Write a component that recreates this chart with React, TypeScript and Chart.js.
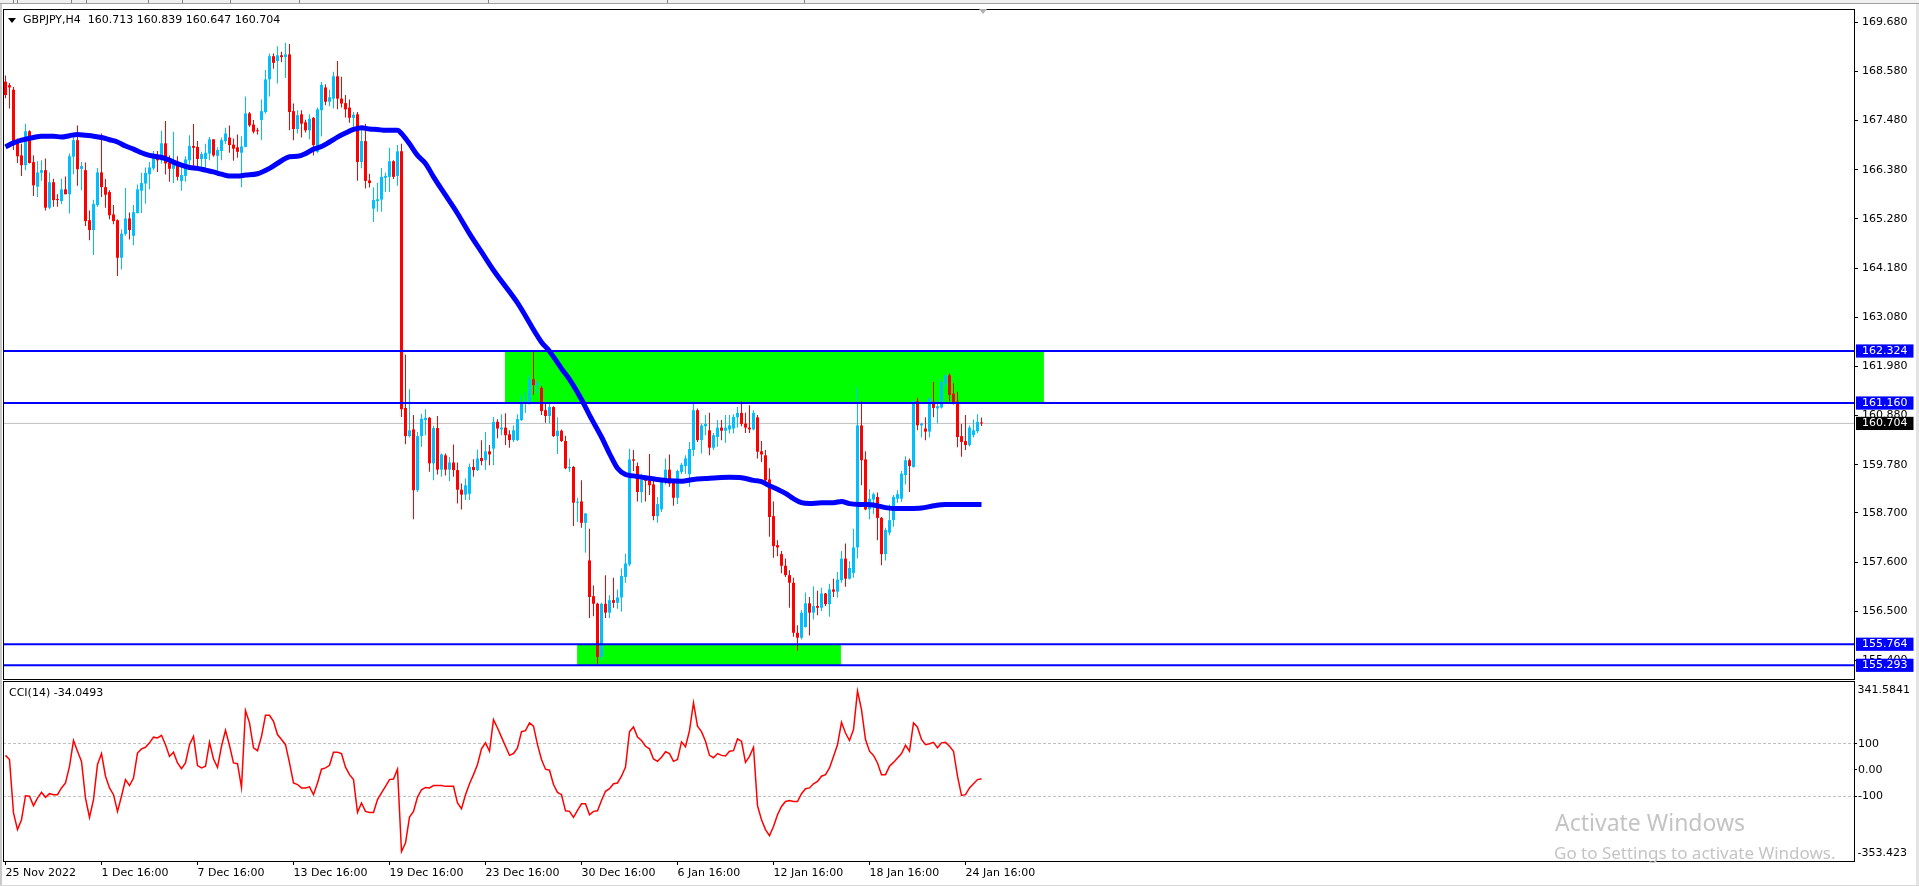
import React, { useEffect, useRef } from "react";
import { Chart, registerables } from "chart.js";

Chart.register(...registerables);

const SYMBOL = "GBPJPY,H4";
const LAST_BAR = ["160.713", "160.839", "160.647", "160.704"];
const CCI_TITLE = "CCI(14) -34.0493";

const OPEN = [
  168.35,168.27,168.17,167.04,166.70,166.48,167.24,166.55,166.00,166.31,
  166.37,165.53,166.10,165.72,165.68,165.94,165.83,166.67,167.04,166.40,
  166.37,165.25,165.03,165.59,166.32,165.99,165.88,165.38,165.25,164.41,
  164.94,165.29,164.90,165.41,165.91,166.07,166.28,166.41,166.69,166.59,
  166.97,166.54,166.40,166.55,166.13,166.24,166.59,166.91,166.89,166.62,
  166.62,166.74,167.06,166.69,166.80,167.02,167.10,166.94,166.88,166.76,
  166.89,167.64,167.39,167.26,167.49,167.67,168.40,168.92,168.81,168.94,
  168.90,168.96,167.69,167.29,167.62,167.44,167.26,167.54,166.78,167.71,
  168.22,167.90,167.97,168.47,167.97,167.87,167.77,167.54,167.62,166.55,
  167.02,166.14,165.51,165.68,165.71,166.20,166.22,166.57,166.24,166.79,
  161.05,160.42,160.57,159.21,160.42,160.78,160.83,159.81,160.60,159.67,
  159.99,159.67,159.83,159.66,159.22,159.11,159.13,159.73,159.66,159.93,
  159.88,160.08,160.14,160.74,160.57,160.61,160.46,160.33,160.33,160.78,
  161.15,161.19,161.69,161.56,161.50,161.00,160.87,161.07,160.42,160.54,
  160.31,159.70,159.73,158.93,158.96,158.48,157.64,156.84,156.67,155.48,
  156.67,156.47,156.75,156.69,156.81,157.27,157.55,159.90,159.75,159.17,
  159.45,159.43,159.34,158.63,158.78,159.45,159.67,159.40,159.04,159.62,
  159.75,159.57,160.11,161.00,160.33,160.64,160.55,160.16,160.40,160.61,
  160.54,160.57,160.59,160.84,160.94,160.70,160.61,160.57,160.84,160.08,
  159.99,159.45,158.63,157.98,157.78,157.52,157.31,157.14,156.02,155.91,
  156.15,156.68,156.47,156.62,156.58,156.90,156.66,156.99,156.94,157.20,
  157.68,157.23,157.36,157.93,160.66,159.90,158.78,159.00,159.06,158.59,
  157.78,158.26,158.54,159.02,159.02,159.55,159.88,159.73,161.20,160.66,
  160.59,160.52,161.19,161.04,161.06,161.60,161.78,161.37,161.19,160.42,
  160.31,160.22,160.44,160.53,160.713,
];

const HIGH = [
  168.49,168.32,168.23,167.08,166.96,167.41,167.26,166.70,166.57,166.59,
  166.63,166.32,166.18,165.83,166.18,166.23,166.74,167.13,167.37,166.55,
  166.54,165.47,165.71,166.42,167.19,166.17,165.92,165.59,165.27,165.05,
  165.97,165.42,165.59,166.05,166.31,166.43,166.55,166.80,166.80,167.25,
  167.47,166.70,167.23,166.68,166.46,166.68,167.15,167.40,167.02,166.78,
  166.96,167.11,167.06,166.88,167.10,167.32,167.37,167.08,167.17,167.13,
  168.02,167.67,167.49,167.32,167.95,168.61,168.98,168.98,169.14,169.02,
  169.22,169.19,167.86,167.71,167.71,167.50,167.62,167.56,167.77,168.34,
  168.29,168.17,168.57,168.81,168.46,168.05,167.95,167.67,167.67,167.34,
  167.41,166.29,165.99,166.09,166.42,166.31,166.87,166.59,166.93,166.96,
  162.24,161.47,160.89,160.51,160.92,161.02,160.85,160.65,160.87,160.03,
  160.03,159.95,160.23,159.83,159.36,159.47,159.81,159.90,160.12,160.33,
  160.51,160.22,160.85,160.80,160.91,160.93,160.55,160.66,160.91,161.34,
  161.41,161.78,162.32,161.66,161.54,161.15,161.16,161.09,160.84,160.57,
  160.43,159.92,159.75,159.04,159.43,158.70,158.35,157.08,156.69,156.69,
  157.31,156.86,157.25,156.99,157.46,157.79,160.14,160.11,159.83,159.58,
  159.52,160.02,159.43,159.06,159.47,159.92,160.01,159.43,159.67,159.82,
  159.99,160.29,161.21,161.04,160.70,160.89,160.94,160.49,160.78,160.78,
  160.89,160.89,160.91,161.07,161.20,160.94,161.11,161.00,160.89,160.31,
  160.11,159.70,158.96,158.09,157.85,157.68,157.42,157.25,156.19,156.53,
  156.92,156.82,157.06,156.96,157.03,156.91,157.12,157.23,157.38,157.85,
  158.02,157.62,158.35,161.51,161.20,160.08,159.23,159.16,159.16,158.61,
  158.37,158.89,159.10,159.21,159.64,159.97,159.92,161.22,161.28,160.72,
  160.84,161.28,161.63,161.22,161.71,161.80,161.82,161.60,161.41,160.69,
  160.89,160.66,160.79,160.91,160.839,
];

const LOW = [
  167.98,167.75,166.82,166.53,166.24,166.37,166.52,165.79,165.77,166.13,
  165.47,165.50,165.55,165.55,165.61,165.83,165.40,166.28,166.02,165.92,
  165.12,164.80,164.47,165.55,165.77,165.53,165.27,165.16,164.00,164.15,
  164.90,164.82,164.69,165.40,165.41,165.62,165.94,166.37,166.33,166.52,
  166.27,166.11,166.08,166.14,165.91,166.11,166.44,166.46,166.37,166.35,
  166.38,166.59,166.67,166.24,166.59,166.96,166.76,166.58,166.65,165.99,
  166.88,167.34,167.19,167.17,167.04,167.64,168.02,168.64,168.31,168.79,
  168.43,167.26,167.04,167.19,167.10,167.21,167.06,166.70,166.76,167.13,
  167.82,167.80,167.75,167.73,167.77,167.55,167.43,167.34,166.13,166.41,
  165.96,165.98,165.21,165.44,165.44,165.88,165.88,166.17,166.02,160.85,
  160.24,160.39,158.56,159.17,160.18,160.44,159.62,159.43,159.56,159.51,
  159.54,159.41,159.51,158.91,158.78,158.99,158.99,159.51,159.64,159.77,
  159.66,159.77,159.77,160.37,160.44,160.22,160.16,160.29,160.31,160.76,
  160.94,161.13,161.34,161.37,160.89,160.72,160.70,160.40,160.02,160.29,
  159.68,159.62,158.41,158.50,158.37,157.81,156.35,156.39,155.33,155.41,
  156.35,156.35,156.58,156.56,156.49,157.14,157.51,159.64,158.96,158.93,
  158.96,159.10,158.54,158.48,158.72,159.34,159.29,158.86,158.90,159.57,
  159.58,159.28,159.97,160.29,160.03,160.44,159.99,160.11,160.18,160.33,
  160.27,160.48,160.48,160.61,160.64,160.49,160.49,160.55,159.92,159.84,
  159.30,158.17,157.70,157.73,157.35,157.27,156.58,155.93,155.62,155.87,
  156.14,155.96,156.32,156.41,156.51,156.62,156.38,156.82,156.81,157.14,
  157.05,157.21,157.25,157.68,159.32,158.76,158.56,158.67,158.09,157.53,
  157.64,158.20,158.39,158.93,158.95,159.34,159.17,159.71,160.55,160.39,
  160.33,160.39,160.84,160.70,161.04,161.52,161.20,161.13,160.17,159.96,
  160.11,160.19,160.39,160.49,160.647,
];

const CLOSE = [
  168.05,168.22,166.93,166.68,166.48,167.24,166.53,166.03,166.32,166.37,
  165.53,166.10,165.70,165.70,165.94,165.83,166.68,167.04,166.39,166.46,
  165.23,165.03,165.61,166.32,165.99,165.82,165.36,165.23,164.41,164.95,
  165.29,165.03,165.43,165.94,166.08,166.31,166.43,166.72,166.59,166.97,
  166.52,166.40,166.58,166.22,166.26,166.61,166.91,166.87,166.62,166.73,
  166.76,167.06,166.70,166.82,167.04,167.19,166.93,166.85,166.78,166.90,
  167.64,167.37,167.23,167.24,167.69,168.40,168.92,168.77,168.94,168.90,
  168.96,167.67,167.29,167.60,167.41,167.26,167.52,166.93,167.73,168.28,
  167.90,168.00,168.47,167.97,167.86,167.73,167.54,167.61,166.55,167.02,
  166.13,166.08,165.70,165.72,166.22,166.24,166.57,166.22,166.79,161.02,
  160.42,160.55,159.21,160.42,160.81,160.83,159.81,160.60,159.67,160.01,
  159.67,159.83,159.66,159.22,159.11,159.32,159.73,159.66,159.92,159.86,
  160.08,160.01,160.74,160.59,160.61,160.44,160.33,160.55,160.80,161.19,
  161.21,161.69,161.56,161.60,160.98,160.87,161.07,160.42,160.54,160.31,
  159.70,159.73,158.93,158.95,158.48,158.69,156.82,156.67,155.48,156.67,
  156.47,156.75,156.69,156.81,157.29,157.57,159.90,159.87,159.17,159.45,
  159.42,159.32,158.63,158.90,159.45,159.67,159.36,159.04,159.64,159.78,
  159.92,160.13,161.00,160.33,160.66,160.69,160.16,160.44,160.61,160.54,
  160.61,160.66,160.85,160.94,160.69,160.61,160.57,160.94,160.07,160.01,
  159.43,158.61,157.96,157.93,157.52,157.31,157.14,156.02,155.91,156.47,
  156.68,156.47,156.62,156.58,156.90,156.66,156.99,156.94,157.21,157.68,
  157.23,157.47,157.93,160.66,159.88,158.78,159.02,159.12,158.59,157.78,
  158.32,158.54,159.06,159.12,159.58,159.88,159.75,161.20,160.66,160.70,
  160.52,161.26,161.05,161.09,161.63,161.78,161.34,161.15,160.40,160.29,
  160.22,160.61,160.55,160.74,160.704,
];

const CCI = [
  56,40,-165,-229,-191,-99,-101,-137,-108,-86,
  -105,-91,-95,-95,-69,-50,14,113,72,33,
  -108,-182,-114,21,63,-24,-69,-95,-159,-101,
  -37,-60,-31,65,81,87,104,126,123,133,
  97,52,68,27,5,27,97,129,17,8,
  14,106,42,10,91,152,94,27,24,-67,
  228,181,85,74,129,210,210,187,136,117,
  97,27,-50,-56,-69,-69,-65,-95,-50,3,
  8,18,68,68,63,11,-18,-37,-163,-127,
  -159,-163,-163,-114,-88,-63,-37,-35,3,-313,
  -281,-181,-159,-104,-76,-67,-69,-60,-60,-60,
  -63,-63,-63,-127,-149,-95,-53,-18,21,81,
  104,72,193,161,126,91,56,63,85,147,
  151,181,168,97,40,3,-1,-56,-86,-95,
  -157,-159,-182,-155,-130,-130,-172,-159,-157,-117,
  -82,-72,-53,-50,-24,11,147,165,126,113,
  91,81,42,33,49,70,63,33,40,108,
  89,151,258,168,147,110,56,47,63,56,
  54,72,74,119,110,29,52,87,-137,-191,
  -229,-252,-217,-172,-140,-121,-117,-121,-121,-91,
  -72,-69,-53,-44,-24,-18,8,52,97,183,
  142,113,155,303,232,117,72,56,27,-18,
  -18,14,29,46,63,95,72,181,164,117,
  97,101,106,85,104,106,91,72,-24,-98,
  -95,-69,-53,-37,-34.0493,
];

const MA_BARS = [
  0,2,4,7,9,12,14,16,18,20,22,24,26,28,30,32,34,36,38,40,42,44,46,48,50,52,54,56,58,60,
  63,66,69,71,73,75,77,79,81,83,85,87,89,91,93,95,98,99,101,103,105,107,110,113,116,119,122,128,
  134,136,139,141,144,146,149,151,153,155,157,160,163,166,169,172,175,178,181,184,187,189,191,
  193,195,197,199,201,204,207,209,211,214,217,220,223,226,229,232,235,238,241,244,
];
const MA_VALUES = [
  166.89,166.98,167.04,167.10,167.13,167.13,167.11,167.14,167.17,167.15,167.13,167.10,167.05,167.00,166.91,
  166.84,166.76,166.70,166.67,166.63,166.55,166.48,166.43,166.41,166.37,166.33,166.28,166.24,166.24,166.26,
  166.29,166.41,166.58,166.67,166.68,166.74,166.84,166.90,167.00,167.11,167.20,167.28,167.32,167.29,167.28,
  167.26,167.26,167.19,166.96,166.70,166.52,166.22,165.81,165.40,164.95,164.54,164.13,163.40,
  162.52,162.32,161.93,161.69,161.24,160.89,160.40,160.03,159.70,159.56,159.53,159.49,159.45,159.42,159.41,
  159.45,159.47,159.49,159.50,159.49,159.43,159.40,159.31,159.23,159.14,159.02,158.93,158.91,158.93,158.93,
  158.96,158.91,158.89,158.88,158.82,158.80,158.80,158.81,158.86,158.89,158.89,158.89,158.89,
];

const LEVELS = [162.324, 161.160, 155.764, 155.293];
const BID = 160.704;
const LABEL_PRICES = [162.324, 161.160, 160.704, 155.764, 155.293];
// [fromBar, toBar, lowPrice, highPrice]
const ZONE_UPPER = [124.85, 259.6, 161.160, 162.324];
const ZONE_LOWER = [142.9, 208.85, 155.293, 155.764];

const PRICE_TICKS = [169.68, 168.58, 167.48, 166.38, 165.28, 164.18, 163.08, 161.98, 160.88, 159.78, 158.70, 157.60, 156.50, 155.40];

const TIME_TICK_BARS = [0, 24, 48, 72, 96, 120, 144, 168, 192, 216, 240];
const TIME_TICK_LABELS = [
  "25 Nov 2022", "1 Dec 16:00", "7 Dec 16:00", "13 Dec 16:00", "19 Dec 16:00", "23 Dec 16:00",
  "30 Dec 16:00", "6 Jan 16:00", "12 Jan 16:00", "18 Jan 16:00", "24 Jan 16:00",
];

const CCI_LEVELS = [100, 0, -100];
const CCI_LEVEL_LABELS = ["100", "0.00", "-100"];
const CCI_MAX = 341.5841;
const CCI_MIN = -353.423;
const CCI_EDGE_LABELS = ["341.5841", "-353.423"];

const FONT = "'DejaVu Sans', sans-serif";
const UP = "#00BFFF";
const DOWN = "#FF0000";

const X_MIN = -0.625;
const X_MAX = 462.375;
const PRICE_MAX = 169.975;
const PRICE_MIN = 154.964;

const framePlugin = {
  id: "frame",
  afterDraw(chart: any) {
    const { ctx, chartArea: a } = chart;
    ctx.save();
    ctx.strokeStyle = "#000";
    ctx.lineWidth = 1;
    ctx.strokeRect(a.left + 0.5, a.top + 0.5, a.right - a.left - 1, a.bottom - a.top - 1);
    ctx.restore();
  },
};

function noPadY(width: number) {
  return (s: any) => {
    s.width = width;
    s.paddingTop = 0;
    s.paddingBottom = 0;
  };
}

function hLine(y: number, color: string, width: number, order: number) {
  return {
    type: "line",
    data: [{ x: X_MIN, y }, { x: X_MAX, y }],
    borderColor: color,
    borderWidth: width,
    pointRadius: 0,
    fill: false,
    clip: 0,
    order,
  };
}

function zoneSets(z: number[]) {
  return [
    {
      type: "line",
      data: [{ x: z[0], y: z[3] }, { x: z[1], y: z[3] }],
      borderColor: "rgba(0,0,0,0)",
      borderWidth: 0,
      pointRadius: 0,
      backgroundColor: "#00FF00",
      fill: "+1",
      order: 20,
    },
    {
      type: "line",
      data: [{ x: z[0], y: z[2] }, { x: z[1], y: z[2] }],
      borderColor: "rgba(0,0,0,0)",
      borderWidth: 0,
      pointRadius: 0,
      fill: false,
      order: 20,
    },
  ];
}

function mainConfig(): any {
  const idx = CLOSE.map((_, i) => i);
  const colors = idx.map((i) => (CLOSE[i] >= OPEN[i] ? UP : DOWN));
  const allTicks = [...PRICE_TICKS, ...LABEL_PRICES];
  const isLevel = (ctx: any) => ctx.index >= PRICE_TICKS.length;
  return {
    type: "bar",
    data: {
      datasets: [
        ...zoneSets(ZONE_UPPER),
        ...zoneSets(ZONE_LOWER),
        hLine(BID, "#C0C0C0", 1, 15),
        {
          type: "bar",
          data: idx.map((i) => ({ x: i, y: [LOW[i], HIGH[i]] })),
          backgroundColor: colors,
          barThickness: 1,
          grouped: false,
          inflateAmount: 0,
          minBarLength: 1,
          order: 10,
        },
        {
          type: "bar",
          data: idx.map((i) => ({ x: i, y: [Math.min(OPEN[i], CLOSE[i]), Math.max(OPEN[i], CLOSE[i])] })),
          backgroundColor: colors,
          barThickness: 3,
          grouped: false,
          inflateAmount: 0,
          minBarLength: 1,
          order: 9,
        },
        {
          type: "line",
          data: MA_BARS.map((b, k) => ({ x: b, y: MA_VALUES[k] })),
          borderColor: "#0000FF",
          borderWidth: 5,
          pointRadius: 0,
          cubicInterpolationMode: "monotone",
          fill: false,
          order: 5,
        },
        ...LEVELS.map((v) => hLine(v, "#0000FF", 2, 1)),
      ],
    },
    options: {
      animation: false,
      responsive: false,
      devicePixelRatio: 1,
      events: [],
      layout: { padding: 0 },
      plugins: { legend: { display: false }, tooltip: { enabled: false } },
      scales: {
        x: { type: "linear", display: false, min: X_MIN, max: X_MAX, offset: false, grid: { offset: false } },
        y: {
          type: "linear",
          position: "right",
          min: PRICE_MIN,
          max: PRICE_MAX,
          afterBuildTicks: (s: any) => { s.ticks = allTicks.map((v) => ({ value: v })); },
          afterFit: noPadY(64),
          ticks: {
            autoSkip: false,
            padding: 4,
            color: (ctx: any) => (isLevel(ctx) ? "#FFFFFF" : "#000000"),
            font: { family: FONT, size: 11 },
            showLabelBackdrop: true,
            backdropColor: (ctx: any) =>
              !isLevel(ctx) ? "rgba(0,0,0,0)" : ctx.tick && ctx.tick.value === BID ? "#000000" : "#0000FF",
            backdropPadding: { top: 0, bottom: 0, left: 6, right: 6 },
            callback: (v: any) => Number(v).toFixed(3),
          },
          grid: {
            display: true,
            drawOnChartArea: false,
            drawTicks: true,
            tickLength: 3,
            tickColor: (ctx: any) => (isLevel(ctx) ? "rgba(0,0,0,0)" : "#000000"),
          },
          border: { display: false },
        },
      },
    },
    plugins: [framePlugin],
  };
}

function cciConfig(): any {
  return {
    type: "line",
    data: {
      datasets: [
        {
          data: CCI.map((v, i) => ({ x: i, y: v })),
          borderColor: "#FF0000",
          borderWidth: 1.5,
          pointRadius: 0,
          tension: 0,
          fill: false,
        },
      ],
    },
    options: {
      animation: false,
      responsive: false,
      devicePixelRatio: 1,
      events: [],
      layout: { padding: 0 },
      plugins: { legend: { display: false }, tooltip: { enabled: false } },
      scales: {
        x: {
          type: "linear",
          min: X_MIN,
          max: X_MAX,
          offset: false,
          afterBuildTicks: (s: any) => { s.ticks = TIME_TICK_BARS.map((v) => ({ value: v })); },
          afterFit: (s: any) => {
            s.height = 22;
            s.paddingLeft = 0;
            s.paddingRight = 0;
          },
          ticks: {
            autoSkip: false,
            maxRotation: 0,
            minRotation: 0,
            align: "start",
            padding: 2,
            color: "#000",
            font: { family: FONT, size: 11 },
            callback: (_v: any, k: number) => TIME_TICK_LABELS[k],
          },
          grid: { display: true, offset: false, drawOnChartArea: false, drawTicks: true, tickLength: 3, tickColor: "#000" },
          border: { display: false },
        },
        y: {
          type: "linear",
          position: "right",
          weight: 2,
          min: CCI_MIN,
          max: CCI_MAX,
          afterBuildTicks: (s: any) => { s.ticks = CCI_LEVELS.map((v) => ({ value: v })); },
          afterFit: noPadY(64),
          ticks: {
            autoSkip: false,
            padding: 1,
            color: "#000",
            font: { family: FONT, size: 11 },
            callback: (_v: any, k: number) => CCI_LEVEL_LABELS[k],
          },
          grid: {
            display: true,
            drawOnChartArea: true,
            drawTicks: true,
            tickLength: 2,
            tickColor: "#000",
            color: (ctx: any) => (ctx.tick && ctx.tick.value === 0 ? "rgba(0,0,0,0)" : "#C0C0C0"),
          },
          border: { display: false, dash: [3, 2] },
        },
        yTop: {
          type: "linear",
          position: "right",
          weight: 0,
          min: CCI_MIN,
          max: CCI_MAX,
          afterBuildTicks: (s: any) => { s.ticks = [{ value: CCI_MAX }]; },
          afterFit: noPadY(0),
          ticks: {
            autoSkip: false,
            mirror: true,
            crossAlign: "near",
            padding: 55,
            labelOffset: 9,
            color: "#000",
            font: { family: FONT, size: 11 },
            callback: () => CCI_EDGE_LABELS[0],
          },
          grid: { display: false, drawTicks: false },
          border: { display: false },
        },
        yBot: {
          type: "linear",
          position: "right",
          weight: 1,
          min: CCI_MIN,
          max: CCI_MAX,
          afterBuildTicks: (s: any) => { s.ticks = [{ value: CCI_MIN }]; },
          afterFit: noPadY(0),
          ticks: {
            autoSkip: false,
            mirror: true,
            crossAlign: "near",
            padding: 52,
            labelOffset: -8.5,
            color: "#000",
            font: { family: FONT, size: 11 },
            callback: () => CCI_EDGE_LABELS[1],
          },
          grid: { display: false, drawTicks: false },
          border: { display: false },
        },
      },
    },
    plugins: [framePlugin],
  };
}

const SEPARATORS = [13, 17, 71, 86, 148, 182, 230, 299, 488, 667, 804];

export default function App() {
  const mainRef = useRef<HTMLCanvasElement>(null);
  const cciRef = useRef<HTMLCanvasElement>(null);

  useEffect(() => {
    const c1 = new Chart(mainRef.current as HTMLCanvasElement, mainConfig());
    const c2 = new Chart(cciRef.current as HTMLCanvasElement, cciConfig());
    return () => {
      c1.destroy();
      c2.destroy();
    };
  }, []);

  const text: React.CSSProperties = {
    position: "absolute",
    fontFamily: FONT,
    fontSize: 11,
    lineHeight: "13px",
    color: "#000",
    whiteSpace: "pre",
  };

  return (
    <div style={{ position: "fixed", left: 0, top: 0, width: 1919, height: 886, background: "#fff", overflow: "hidden" }}>
      <div style={{ position: "absolute", left: 0, top: 0, width: 1919, height: 3, background: "#f0f0f0", borderBottom: "1px solid #a0a0a0" }} />
      {SEPARATORS.map((x) => (
        <div key={x} style={{ position: "absolute", left: x, top: 0, width: 1, height: 3, background: "#808080" }} />
      ))}
      <div style={{ position: "absolute", left: 0, top: 4, width: 2, height: 882, background: "#c8c8c8" }} />
      <div style={{ position: "absolute", left: 1916, top: 4, width: 3, height: 882, background: "#e4e4e4" }} />
      <div style={{ position: "absolute", left: 0, top: 885, width: 1919, height: 1, background: "#d8d8d8" }} />

      <canvas ref={mainRef} width={1916} height={671} style={{ position: "absolute", left: 3, top: 9, display: "block" }} />
      <canvas ref={cciRef} width={1916} height={203} style={{ position: "absolute", left: 3, top: 681, display: "block" }} />

      <div
        style={{
          position: "absolute",
          left: 979,
          top: 9,
          width: 0,
          height: 0,
          borderLeft: "4px solid transparent",
          borderRight: "4px solid transparent",
          borderTop: "5px solid #b0b0b0",
        }}
      />
      <div
        style={{
          position: "absolute",
          left: 8,
          top: 18,
          width: 0,
          height: 0,
          borderLeft: "4px solid transparent",
          borderRight: "4px solid transparent",
          borderTop: "5px solid #000",
        }}
      />
      <div style={{ ...text, left: 23, top: 13 }}>{SYMBOL + "  " + LAST_BAR.join(" ")}</div>
      <div style={{ ...text, left: 9, top: 686 }}>{CCI_TITLE}</div>

      <div
        style={{
          position: "absolute",
          left: 1555,
          top: 811,
          fontFamily: "'Noto Sans', sans-serif",
          fontSize: 23,
          lineHeight: "23px",
          color: "#c4c4c4",
          whiteSpace: "pre",
        }}
      >
        Activate Windows
      </div>
      <div
        style={{
          position: "absolute",
          left: 1554,
          top: 844,
          fontFamily: "'Noto Sans', sans-serif",
          fontSize: 17,
          lineHeight: "17px",
          color: "#c4c4c4",
          whiteSpace: "pre",
        }}
      >
        Go to Settings to activate Windows.
      </div>
    </div>
  );
}
